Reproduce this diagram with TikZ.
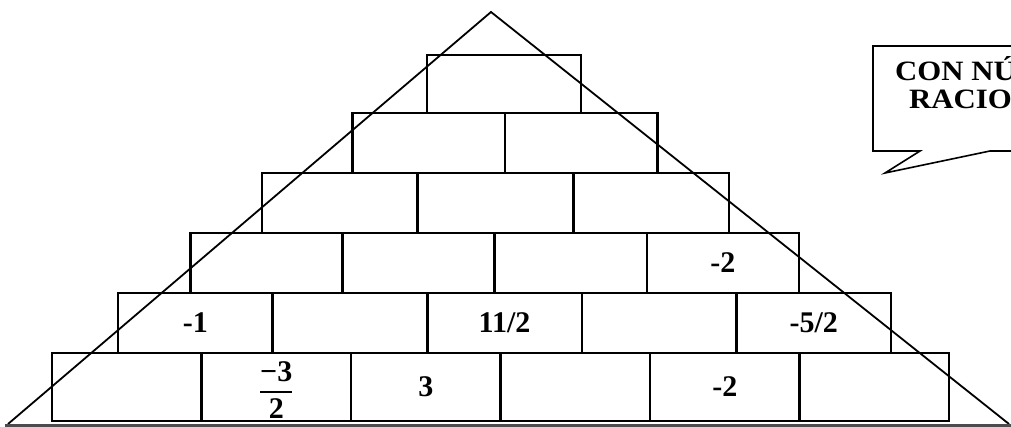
\documentclass[tikz,border=0pt]{standalone}
\usepackage{graphicx}
\usepackage{fontspec}
\setmainfont{Liberation Serif}
\begin{document}
\begin{tikzpicture}[x=1pt,y=-1pt,
  cell/.style={draw=black, line width=2.6pt, inner sep=0pt, outer sep=0pt, rectangle},
  num/.style={font=\fontsize{30}{33}\selectfont\bfseries, inner sep=0pt},
  tri/.style={draw=black, line width=1.8pt, line join=miter},
  baseln/.style={draw=black!70, line width=3.2pt},
  bubble/.style={draw=black, line width=1.6pt, line join=miter, fill=white},
  bubtext/.style={font=\fontsize{28}{32}\selectfont\bfseries, inner sep=0pt, anchor=base west}]
\useasboundingbox (0,0) rectangle (1011,427);
\clip (0,0) rectangle (1011,427);
% pyramid cells
\foreach \r/\n/\xl/\xr/\yt/\yb in {1/1/427/581/55/113, 2/2/352.5/657.5/113/173, 3/3/262/729/173/233, 4/4/190.5/799/233/293, 5/5/118/891/293/353, 6/6/52/949/353/421} {
  \pgfmathsetmacro\w{(\xr-\xl)/\n}
  \pgfmathsetmacro\h{\yb-\yt}
  \pgfmathsetmacro\yc{(\yt+\yb)/2}
  \foreach \k in {1,...,\n} {
    \pgfmathsetmacro\xc{\xl+(\k-0.5)*\w}
    \node[cell, minimum width=\w pt, minimum height=\h pt] (c\r-\k) at (\xc,\yc) {};
  }
}
% numbers
\node[num] (t4-4) at (c4-4) {-2};
\node[num] (t5-1) at (c5-1) {-1};
\node[num] (t5-3) at (c5-3) {11/2};
\node[num] (t5-5) at (c5-5) {-5/2};
\node[num] (t6-2) at ([yshift=-3pt]c6-2.center) {$\displaystyle{\mbox{−3}\above1.8pt\mbox{2}}$};
\node[num] (t6-3) at (c6-3) {3};
\node[num] (t6-5) at (c6-5) {-2};
% triangle
\coordinate (apex) at (491,12);
\coordinate (bl) at (8,424);
\coordinate (br) at (1009,424);
\coordinate (basel) at (5,425.5);
\coordinate (baser) at (1011,425.5);
\draw[tri] (bl) -- (apex) -- (br);
\draw[baseln] (basel) -- (baser);
% speech bubble
\coordinate (b1) at (920,151);
\coordinate (b2) at (873,151);
\coordinate (b3) at (873,46);
\coordinate (b4) at (1040,46);
\coordinate (b5) at (1040,151);
\coordinate (b6) at (990,151);
\coordinate (tip) at (885,173);
\draw[bubble] (b1) -- (b2) -- (b3) -- (b4) -- (b5) -- (b6) -- (tip) -- cycle;
\node[bubtext] (l1) at (895,81) {\scalebox{1.1}[1]{CON NÚMEROS}};
\node[bubtext] (l2) at (909,109) {\scalebox{1.1}[1]{RACIONALES}};
\end{tikzpicture}
\end{document}
